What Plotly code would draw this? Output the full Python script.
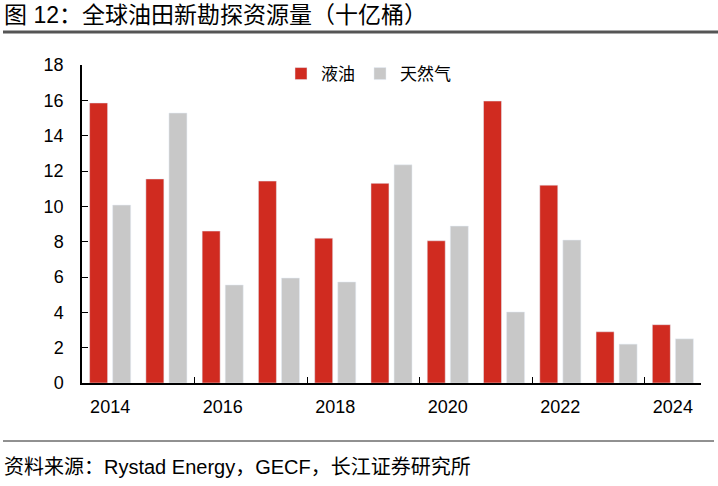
import plotly.graph_objects as go

years = ["2014", "2015", "2016", "2017", "2018", "2019", "2020", "2021", "2022", "2023", "2024"]
oil = [15.85, 11.55, 8.6, 11.43, 8.2, 11.3, 8.05, 15.96, 11.2, 2.9, 3.3]
gas = [10.07, 15.28, 5.55, 5.94, 5.72, 12.35, 8.88, 4.02, 8.09, 2.2, 2.5]
series_names = ["液油", "天然气"]
title_text = "图 12：全球油田新勘探资源量（十亿桶）"
source_text = "资料来源：Rystad Energy，GECF，长江证券研究所"

W, H = 718, 486
L, R, T, B = 82, 17, 65, 103
pw, ph = W - L - R, H - T - B

def px_x(x):
    return (x - L) / pw

def px_y(y):
    return (H - B - y) / ph

fig = go.Figure()
fig.add_trace(go.Bar(x=years, y=oil, name=series_names[0], marker_color="#D02B20"))
fig.add_trace(go.Bar(x=years, y=gas, name=series_names[1], marker_color="#C8C8C8"))

font_family = "Liberation Sans, Arial, Noto Sans CJK SC"
mixed = "Liberation Sans, Noto Sans CJK SC"

fig.update_layout(
    width=W, height=H,
    margin=dict(l=L, r=R, t=T, b=B),
    paper_bgcolor="white", plot_bgcolor="white",
    barmode="group", bargap=0.18, bargroupgap=0.22,
    font=dict(family=font_family, size=18, color="#000"),
    showlegend=True,
    legend=dict(orientation="h", x=px_x(281), y=px_y(56), xanchor="left", yanchor="top",
                font=dict(size=17, family=mixed), itemwidth=30,
                bgcolor="rgba(0,0,0,0)", tracegroupgap=0),
    xaxis=dict(type="category", showline=True, linecolor="#000", linewidth=1.5,
               ticks="inside", ticklen=6, tickcolor="#000", tickson="boundaries",
               dtick=2, showgrid=False, tickfont=dict(size=18), ticklabelstandoff=7),
    yaxis=dict(range=[0, 18], dtick=2, showline=True, linecolor="#000", linewidth=1.5,
               ticks="inside", ticklen=6, tickcolor="#000", showgrid=False, zeroline=False,
               tickfont=dict(size=18), ticklabelstandoff=13),
    shapes=[
        dict(type="line", xref="paper", yref="paper", x0=px_x(3), x1=px_x(718), y0=px_y(32), y1=px_y(32),
             line=dict(color="#555555", width=3)),
        dict(type="line", xref="paper", yref="paper", x0=px_x(3), x1=px_x(714), y0=px_y(441), y1=px_y(441),
             line=dict(color="#222222", width=1)),
    ],
    annotations=[
        dict(text=title_text, xref="paper", yref="paper", x=px_x(2), y=px_y(15), xanchor="left",
             yanchor="middle", showarrow=False,
             font=dict(size=23, family=mixed, color="#000")),
        dict(text=source_text, xref="paper", yref="paper", x=px_x(2), y=px_y(467), xanchor="left",
             yanchor="middle", showarrow=False,
             font=dict(size=20, family=mixed, color="#000")),
    ],
)

fig.write_html("out.html", config={"displayModeBar": False},
               post_script="document.body.style.margin='0px';")
